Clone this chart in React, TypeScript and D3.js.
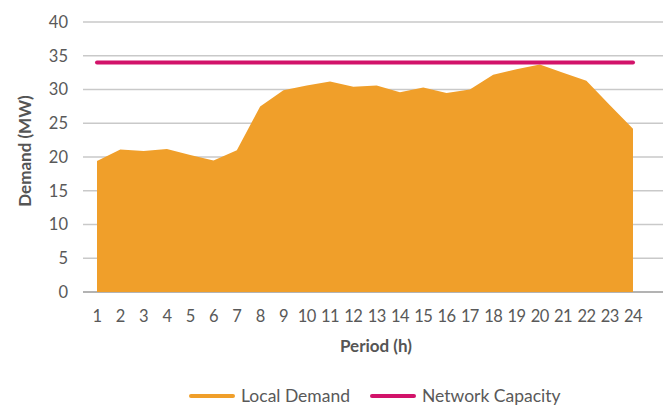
import React from "react";
import * as d3 from "d3";

const periods = [1,2,3,4,5,6,7,8,9,10,11,12,13,14,15,16,17,18,19,20,21,22,23,24];
const localDemand = [19.4,21.1,20.9,21.2,20.3,19.5,21.0,27.5,29.9,30.6,31.2,30.4,30.6,29.6,30.3,29.5,30.0,32.2,33.0,33.7,32.5,31.3,27.7,24.2];
const networkCapacity = periods.map(() => 34);
const yTicks = [0,5,10,15,20,25,30,35,40];

const W = 665, H = 407;
const ORANGE = "#F09F2A";
const PINK = "#D2136A";
const FONT = "Lato, 'Open Sans', sans-serif";

export default function App() {
  const x = d3.scaleLinear().domain([1, 24]).range([97, 633]);
  const y = d3.scaleLinear().domain([0, 40]).range([292, 22]);
  const area = d3.area<number>().x((_, i) => x(periods[i])).y0(y(0)).y1(d => y(d));
  const line = d3.line<number>().x((_, i) => x(periods[i])).y(d => y(d));
  return (
    <svg width={W} height={H} style={{ position: "absolute", left: 0, top: 0 }}>
      {yTicks.map(t => (
        <g key={t}>
          <line x1={83} x2={663} y1={y(t)} y2={y(t)} stroke={t === 0 ? "#9a9a9a" : "#c9c9c9"} strokeWidth={1.3} />
          <text x={68} y={y(t)} dy="0.36em" textAnchor="end" fontFamily={FONT} fontSize={16.5} fill="#595959">{t}</text>
        </g>
      ))}
      <path d={area(localDemand) || ""} fill={ORANGE} />
      <path d={line(networkCapacity) || ""} fill="none" stroke={PINK} strokeWidth={4} strokeLinecap="round" />
      {periods.map(p => (
        <text key={p} x={x(p)} y={316} dy="0.36em" textAnchor="middle" fontFamily={FONT} fontSize={16.5} letterSpacing={-0.6} fill="#595959">{p}</text>
      ))}
      <text x={376} y={346} dy="0.36em" textAnchor="middle" fontFamily={FONT} fontSize={17} fontWeight="bold" fill="#555555">Period (h)</text>
      <text transform={`translate(25,151) rotate(-90)`} dy="0.36em" textAnchor="middle" fontFamily={FONT} fontSize={17} fontWeight="bold" fill="#555555">Demand (MW)</text>
      <line x1={191} x2={233} y1={396} y2={396} stroke={ORANGE} strokeWidth={4} strokeLinecap="round" />
      <text x={241} y={396} dy="0.36em" fontFamily={FONT} fontSize={17.5} fill="#595959">Local Demand</text>
      <line x1={372} x2={414} y1={396} y2={396} stroke={PINK} strokeWidth={4} strokeLinecap="round" />
      <text x={422} y={396} dy="0.36em" fontFamily={FONT} fontSize={17.5} fill="#595959">Network Capacity</text>
    </svg>
  );
}
